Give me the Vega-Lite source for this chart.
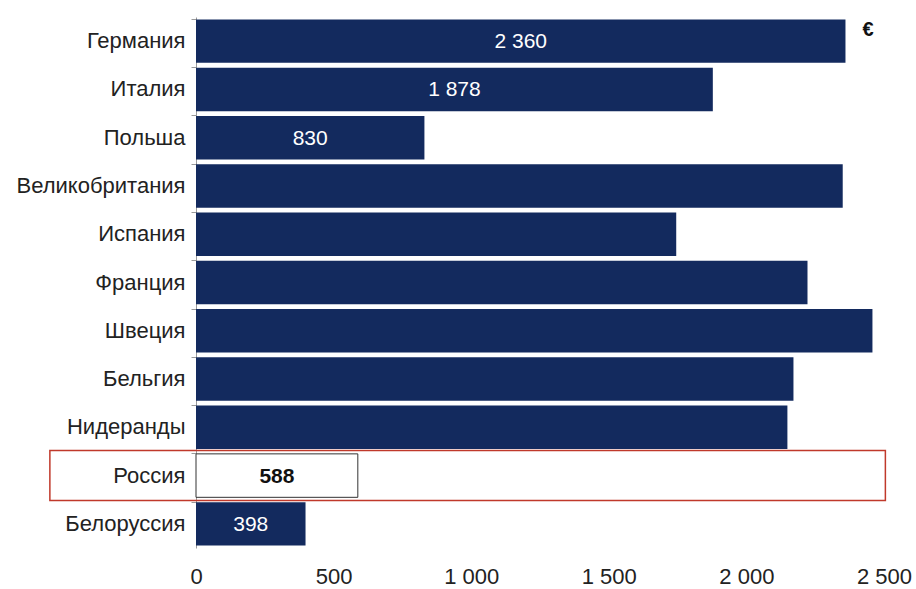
{
  "$schema": "https://vega.github.io/schema/vega-lite/v6.json",
  "width": 688,
  "height": 531,
  "autosize": {"type": "none"},
  "padding": {"left": 196, "top": 17, "right": 32, "bottom": 41},
  "background": "white",
  "config": {"view": {"stroke": null}, "font": "Liberation Sans"},
  "data": {"values": [
    {"country": "Германия", "value": 2360, "label": "2 360", "highlight": false},
    {"country": "Италия", "value": 1878, "label": "1 878", "highlight": false},
    {"country": "Польша", "value": 830, "label": "830", "highlight": false},
    {"country": "Великобритания", "value": 2350, "label": "", "highlight": false},
    {"country": "Испания", "value": 1745, "label": "", "highlight": false},
    {"country": "Франция", "value": 2222, "label": "", "highlight": false},
    {"country": "Швеция", "value": 2458, "label": "", "highlight": false},
    {"country": "Бельгия", "value": 2171, "label": "", "highlight": false},
    {"country": "Нидеранды", "value": 2149, "label": "", "highlight": false},
    {"country": "Россия", "value": 588, "label": "588", "highlight": true},
    {"country": "Белоруссия", "value": 398, "label": "398", "highlight": false}
  ]},
  "encoding": {
    "y": {
      "field": "country", "type": "nominal", "sort": null,
      "scale": {"paddingInner": 0.1, "paddingOuter": 0.05},
      "axis": {
        "title": null, "domain": true, "domainColor": "#9a9a9a", "ticks": true,
        "tickColor": "#9a9a9a", "tickSize": 5, "bandPosition": 0,
        "labelFontSize": 22, "labelColor": "#222222", "labelPadding": 6,
        "labelFont": "Liberation Sans", "labelLimit": 300
      }
    }
  },
  "layer": [
    {
      "mark": {"type": "bar", "stroke": "#333333", "strokeWidth": 1},
      "encoding": {
        "x": {
          "field": "value", "type": "quantitative",
          "scale": {"domain": [0, 2500], "nice": false},
          "axis": {
            "title": null, "domain": false, "ticks": false, "grid": false,
            "values": [0, 500, 1000, 1500, 2000, 2500],
            "labelExpr": "replace(format(datum.value, ','), ',', ' ')",
            "labelFontSize": 22, "labelColor": "#222222", "labelPadding": 18,
            "labelFont": "Liberation Sans", "labelFlush": false
          }
        },
        "fill": {
          "field": "highlight", "type": "nominal",
          "scale": {"domain": [false, true], "range": ["#132a5e", "#ffffff"]},
          "legend": null
        },
        "strokeOpacity": {
          "field": "highlight", "type": "nominal",
          "scale": {"domain": [false, true], "range": [0, 1]},
          "legend": null
        }
      }
    },
    {
      "transform": [
        {"filter": "datum.label != '' && !datum.highlight"},
        {"calculate": "datum.value / 2", "as": "labelPos"}
      ],
      "mark": {"type": "text", "fontSize": 21, "align": "center", "baseline": "middle", "dy": 1, "color": "#ffffff"},
      "encoding": {
        "x": {"field": "labelPos", "type": "quantitative"},
        "text": {"field": "label"}
      }
    },
    {
      "transform": [
        {"filter": "datum.highlight"},
        {"calculate": "datum.value / 2", "as": "labelPos"}
      ],
      "mark": {"type": "text", "fontSize": 21, "fontWeight": "bold", "align": "center", "baseline": "middle", "dy": 1, "color": "#111111"},
      "encoding": {
        "x": {"field": "labelPos", "type": "quantitative"},
        "text": {"field": "label"}
      }
    },
    {
      "transform": [{"filter": "datum.highlight"}],
      "mark": {"type": "rect", "fill": null, "stroke": "#c0392b", "strokeWidth": 1.5, "height": {"band": 1.15}},
      "encoding": {
        "x": {"datum": -531},
        "x2": {"datum": 2505}
      }
    },
    {
      "transform": [{"filter": "datum.country == 'Германия'"}],
      "mark": {"type": "text", "text": "€", "fontSize": 20, "fontWeight": "bold", "align": "center", "dy": -11, "color": "#111111"},
      "encoding": {
        "x": {"datum": 2442}
      }
    }
  ]
}
